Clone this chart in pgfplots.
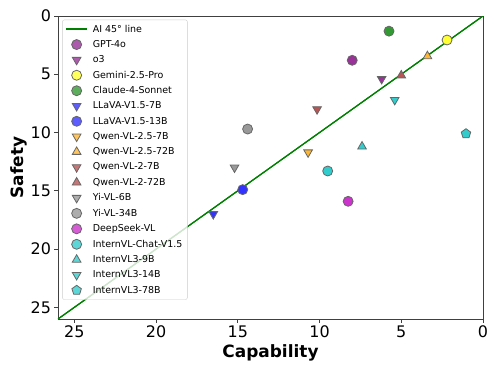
\documentclass[border=0pt]{standalone}
\usepackage{fontspec}
\setmainfont{DejaVu Sans}
\usepackage{pgfplots}
\pgfplotsset{compat=1.18}
\usetikzlibrary{plotmarks,calc}
\definecolor{cPurple}{RGB}{153,51,153}
\definecolor{cYellow}{RGB}{255,255,51}
\definecolor{cGreen}{RGB}{51,153,51}
\definecolor{cBlue}{RGB}{51,51,255}
\definecolor{cOrange}{RGB}{255,183,51}
\definecolor{cBrown}{RGB}{183,85,85}
\definecolor{cGray}{RGB}{153,153,153}
\definecolor{cMagenta}{RGB}{204,51,204}
\definecolor{cCyan}{RGB}{51,204,204}
\definecolor{lineGreen}{RGB}{0,128,0}
\begin{document}
\begin{tikzpicture}
\begin{axis}[
  width=425bp, height=303bp, scale only axis,
  xmin=0, xmax=26, ymin=0, ymax=26,
  x dir=reverse, y dir=reverse,
  xtick={0,5,...,25}, ytick={0,5,...,25},
  tick align=outside, major tick length=3.5bp,
  xtick pos=bottom, ytick pos=left,
  tick style={black!75, line width=0.8bp},
  axis line style={black!75, line width=0.8bp},
  ticklabel style={font=\fontsize{16}{18}\selectfont},
  /pgf/number format/assume math mode=true,
  xlabel={Capability}, ylabel={Safety},
  label style={font=\fontsize{17}{20}\selectfont\bfseries},
  ylabel shift=-3bp,
  legend style={at={(0.01,0.988)}, anchor=north west,
    font=\fontsize{9.5}{11}\selectfont, draw=black!20, fill=white,
    fill opacity=0.8, text opacity=1, draw opacity=1,
    rounded corners=2bp, row sep=2.8bp, column sep=3bp, inner sep=3bp},
  legend cell align=left,
  legend image code/.code={\draw[mark repeat=2, mark phase=2, #1]
    plot coordinates {(0bp,0bp) (10.5bp,0bp) (21bp,0bp)};},
  mk/.style={only marks, mark size=5bp,
    mark options={draw=black!60, line width=0.8bp, fill=#1}},
  mkv/.style={only marks, mark=triangle*, mark size=5bp,
    mark options={draw=black!60, line width=0.8bp, fill=#1, rotate=180}},
]
\coordinate (SW) at (axis cs:26,26);
\coordinate (NE) at (axis cs:0,0);
\addplot[lineGreen, line width=1.2bp, mark=none,
  legend image code/.code={\draw[draw=lineGreen, line width=1.4bp, draw opacity=1]
    (0bp,0bp) -- (21bp,0bp);}] coordinates {(0,0) (26,26)};
\addlegendentry{AI 45° line}
\addplot[mk=cPurple, mark=*] coordinates {(8.0,3.8)};
\addlegendentry{GPT-4o}
\addplot[mkv=cPurple] coordinates {(6.2,5.4)};
\addlegendentry{o3}
\addplot[mk=cYellow, mark=*] coordinates {(2.2,2.06)};
\addlegendentry{Gemini-2.5-Pro}
\addplot[mk=cGreen, mark=*] coordinates {(5.75,1.3)};
\addlegendentry{Claude-4-Sonnet}
\addplot[mkv=cBlue] coordinates {(16.5,17.0)};
\addlegendentry{LLaVA-V1.5-7B}
\addplot[mk=cBlue, mark=*] coordinates {(14.7,14.9)};
\addlegendentry{LLaVA-V1.5-13B}
\addplot[mkv=cOrange] coordinates {(10.7,11.7)};
\addlegendentry{Qwen-VL-2.5-7B}
\addplot[mk=cOrange, mark=triangle*] coordinates {(3.4,3.45)};
\addlegendentry{Qwen-VL-2.5-72B}
\addplot[mkv=cBrown] coordinates {(10.15,8.0)};
\addlegendentry{Qwen-VL-2-7B}
\addplot[mk=cBrown, mark=triangle*] coordinates {(5.0,5.1)};
\addlegendentry{Qwen-VL-2-72B}
\addplot[mkv=cGray] coordinates {(15.2,13.0)};
\addlegendentry{Yi-VL-6B}
\addplot[mk=cGray, mark=*] coordinates {(14.4,9.7)};
\addlegendentry{Yi-VL-34B}
\addplot[mk=cMagenta, mark=*] coordinates {(8.25,15.9)};
\addlegendentry{DeepSeek-VL}
\addplot[mk=cCyan, mark=*] coordinates {(9.5,13.3)};
\addlegendentry{InternVL-Chat-V1.5}
\addplot[mk=cCyan, mark=triangle*] coordinates {(7.4,11.2)};
\addlegendentry{InternVL3-9B}
\addplot[mkv=cCyan] coordinates {(5.4,7.2)};
\addlegendentry{InternVL3-14B}
\addplot[mk=cCyan, mark=pentagon*] coordinates {(1.04,10.1)};
\addlegendentry{InternVL3-78B}
\addplot[lineGreen, line width=1.2bp, forget plot] coordinates {(0,0) (26,26)};
\end{axis}
\path[use as bounding box] ($(SW)+(-58bp,-55bp)$) rectangle ($(NE)+(15bp,16bp)$);
\end{tikzpicture}
\end{document}
